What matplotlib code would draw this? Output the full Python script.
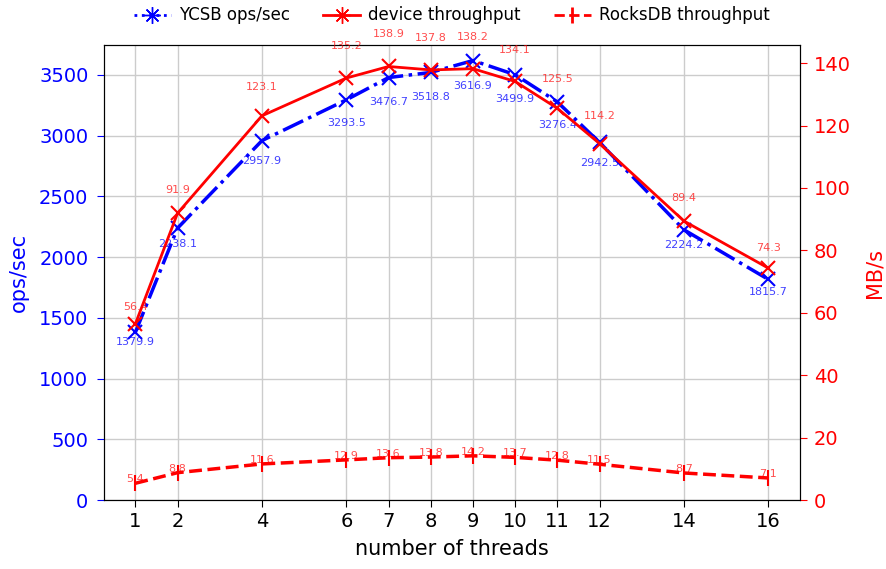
import matplotlib
matplotlib.use("Agg")
import matplotlib.pyplot as plt
from matplotlib.lines import Line2D

threads = [1, 2, 4, 6, 7, 8, 9, 10, 11, 12, 14, 16]
ycsb_ops = [1379.9, 2238.1, 2957.9, 3293.5, 3476.7, 3518.8, 3616.9, 3499.9, 3276.4, 2942.5, 2224.2, 1815.7]
device_mb = [56.4, 91.9, 123.1, 135.2, 138.9, 137.8, 138.2, 134.1, 125.5, 114.2, 89.4, 74.3]
rocksdb_mb = [5.4, 8.8, 11.6, 12.9, 13.6, 13.8, 14.2, 13.7, 12.8, 11.5, 8.7, 7.1]

fig = plt.figure(figsize=(8.86, 5.69), dpi=100)
ax1 = fig.add_axes([0.117, 0.121, 0.786, 0.8])
ax2 = ax1.twinx()

ax1.plot(threads, ycsb_ops, color="blue", linestyle="-.", linewidth=2.5,
         marker="x", markersize=10, markeredgewidth=1.5, zorder=3)
ax2.plot(threads, device_mb, color="red", linestyle="-", linewidth=2,
         marker="x", markersize=10, markeredgewidth=1.5)
ax2.plot(threads, rocksdb_mb, color="red", linestyle="--", linewidth=2.5,
         marker="|", markersize=12, markeredgewidth=1.5)

# etichete cu valori
for x, y in zip(threads, ycsb_ops):
    ax1.text(x, y * 0.943, f"{y}", color="blue", alpha=0.75, fontsize=8,
             ha="center", va="center")
for x, y in zip(threads, device_mb):
    ax2.text(x, y * 1.06 + 2, f"{y}", color="red", alpha=0.7, fontsize=8,
             ha="center", va="center")
for x, y in zip(threads, rocksdb_mb):
    ax2.text(x, y + 1.3, f"{y}", color="red", alpha=0.7, fontsize=8,
             ha="center", va="center")

ax1.set_ylim(0, 3745)
ax2.set_ylim(0, 145.8)
ax1.set_xticks(threads)
ax1.set_yticks(range(0, 3501, 500))
ax2.set_yticks(range(0, 141, 20))
ax1.grid(True, color="#cccccc", linewidth=1)

ax1.tick_params(axis="y", colors="blue", labelsize=14, length=5, pad=6)
ax2.tick_params(axis="y", colors="red", labelsize=14, length=5, pad=5)
ax1.tick_params(axis="x", labelsize=14, length=5)
ax1.set_xlabel("number of threads", fontsize=15, labelpad=6)
ax1.set_ylabel("ops/sec", color="blue", fontsize=15, labelpad=7)
ax2.set_ylabel("MB/s", color="red", fontsize=15, labelpad=10)

handles = [
    Line2D([], [], color="blue", linestyle=":", linewidth=2, marker=(8, 2, 0), markersize=12),
    Line2D([], [], color="red", linestyle="-", linewidth=2, marker=(8, 2, 0), markersize=12),
    Line2D([], [], color="red", linestyle="--", linewidth=2, marker="|", markersize=12, markeredgewidth=2),
]
fig.legend(handles, ["YCSB ops/sec", "device throughput", "RocksDB throughput"],
           loc="upper center", bbox_to_anchor=(0.51, 1.015), ncol=3, frameon=False,
           fontsize=12, handlelength=2.2, handletextpad=0.5, columnspacing=2.0)

fig.savefig("out.png", dpi=100)
